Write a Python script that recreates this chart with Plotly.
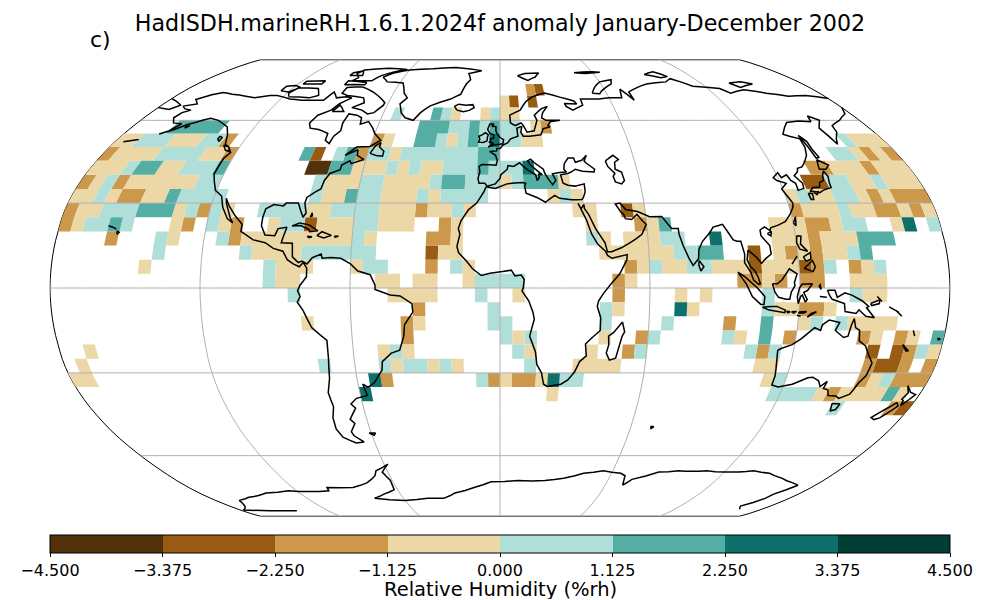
import plotly.graph_objects as go

TITLE = "HadISDH.marineRH.1.6.1.2024f anomaly January-December 2002"
PANEL = "c)"
CBAR_TITLE = "Relative Humidity (%rh)"
TICK_VALUES = [-4.5, -3.375, -2.25, -1.125, 0.0, 1.125, 2.25, 3.375, 4.5]
TICK_LABELS = ["\u22124.500", "\u22123.375", "\u22122.250", "\u22121.125", "0.000", "1.125", "2.250", "3.375", "4.500"]
BIN_COLORS = {-4: "#53310a", -3: "#985b12", -2: "#cc994c", -1: "#ecd7a6",
              1: "#afdfd8", 2: "#54aea4", 3: "#0e706a", 4: "#003d35"}
BIN_MIDPOINTS = {-4: -3.94, -3: -2.81, -2: -1.69, -1: -0.56, 1: 0.56, 2: 1.69, 3: 2.81, 4: 3.94}

# south edge of each 5-degree band -> (west lon, east lon, anomaly bin)
ANOMALY_RUNS = {
 70: [(15,20,-2),(20,25,-3)],
 65: [(0,5,-1),(5,10,-3),(15,20,-3)],
 60: [(-55,-50,1),(-35,-30,2),(-30,-25,1),(-25,-20,-1),(-10,-5,-1),(-5,0,1),(0,10,-1)],
 55: [(-160,-135,2),(-40,-25,2),(-25,-15,1),(-15,-10,2),(-10,-5,1),(-5,0,2),(0,10,1),(15,20,-1),(20,25,-2)],
 50: [(-180,-170,-1),(-170,-155,1),(-155,-140,-1),(-140,-130,1),(-130,-125,-2),(-60,-55,-2),(-55,-50,-1),(-40,-30,2),(-30,-25,1),(-25,-20,-1),(-20,-15,1),(-15,-10,2),(-10,-5,1),(-5,0,3),(0,10,1),(10,20,-1),(160,165,1),(165,180,-1)],
 45: [(-180,-175,-2),(-175,-155,-1),(-155,-135,1),(-135,-125,-1),(-125,-120,-2),(-90,-85,2),(-85,-80,-3),(-75,-70,1),(-70,-65,2),(-65,-60,-2),(-60,-50,1),(-50,-45,-1),(-45,-10,1),(-10,0,2),(150,160,1),(160,165,-1),(165,170,-2),(170,175,-1),(175,180,-2)],
 40: [(-180,-165,-1),(-165,-160,1),(-160,-150,2),(-150,-140,-1),(-140,-125,1),(-125,-120,2),(-85,-75,-4),(-75,-65,2),(-65,-50,-1),(-50,-45,1),(-45,-40,-1),(-40,-35,1),(-35,-25,-1),(-25,-10,1),(-10,-5,2),(-5,10,1),(10,15,3),(135,145,-2),(145,160,-1),(160,165,-2),(165,180,-1)],
 35: [(-180,-175,-2),(-175,-170,-1),(-170,-165,1),(-165,-160,-2),(-160,-130,-1),(-130,-120,1),(-80,-75,1),(-75,-60,-1),(-60,-50,1),(-50,-30,-1),(-30,-25,1),(-25,-15,2),(-15,0,1),(0,5,-1),(5,10,1),(10,25,2),(25,30,-1),(130,140,-3),(140,150,1),(150,160,-1),(160,165,1),(165,180,-1)],
 30: [(-180,-170,-1),(-170,-165,1),(-165,-160,-1),(-160,-150,-2),(-150,-140,-1),(-140,-135,2),(-135,-115,1),(-80,-75,1),(-75,-65,-1),(-65,-60,2),(-60,-50,1),(-50,-35,-1),(-35,-30,1),(-30,-25,-1),(-25,-5,1),(20,25,-1),(25,30,1),(30,35,-1),(120,125,-1),(125,130,1),(130,140,-1),(140,150,1),(150,155,-1),(155,160,-2),(160,165,-1),(165,180,-2)],
 25: [(-180,-175,-2),(-175,-165,-1),(-165,-150,1),(-150,-135,2),(-135,-130,-1),(-130,-125,1),(-125,-120,-2),(-120,-115,1),(-115,-110,-1),(-100,-80,1),(-80,-70,-1),(-70,-50,1),(-50,-35,-1),(-35,-30,-2),(-30,-20,-1),(-20,-15,1),(-15,-10,-1),(30,40,-1),(50,55,-3),(55,60,-1),(120,125,-2),(125,140,-1),(140,145,1),(145,155,-1),(155,165,-2),(165,170,-1),(170,175,-2),(175,180,-1)],
 20: [(-180,-175,-2),(-175,-170,-1),(-170,-160,1),(-160,-155,2),(-155,-150,1),(-135,-130,-1),(-130,-125,-2),(-120,-115,1),(-115,-110,-1),(-110,-105,-2),(-95,-90,-1),(-90,-80,1),(-80,-75,-3),(-75,-60,-1),(-60,-50,1),(-50,-35,-1),(-25,-20,-2),(-20,-15,-1),(35,40,-1),(55,60,-2),(60,65,-1),(65,70,2),(110,125,-1),(125,135,-2),(135,140,-1),(140,150,1),(160,165,-1),(165,170,3),(175,180,1)],
 15: [(-160,-155,-2),(-140,-135,1),(-135,-130,-1),(-115,-110,1),(-110,-105,-2),(-105,-60,-1),(-60,-55,1),(-55,-50,-1),(-30,-20,-2),(-20,-15,-1),(35,40,1),(40,45,-1),(50,65,-1),(65,75,1),(85,90,3),(110,125,-1),(125,130,-2),(130,145,-1),(145,160,2)],
 10: [(-140,-135,1),(-105,-100,1),(-100,-80,-1),(-80,-50,1),(-30,-25,-3),(-25,-15,-1),(40,70,-1),(70,80,1),(80,90,2),(100,105,-3),(110,115,-1),(115,120,-2),(120,125,-1),(125,130,-2),(130,140,-1),(140,145,1),(145,150,2)],
 5: [(-145,-140,-1),(-95,-90,1),(-90,-75,-1),(-60,-55,-1),(-55,-45,1),(-30,-25,-2),(-20,-15,1),(-15,-10,-1),(50,55,-2),(55,60,-1),(60,65,1),(65,75,-1),(75,85,1),(85,100,-1),(100,105,-3),(105,120,-1),(120,125,-3),(125,130,-2),(130,135,1),(140,145,-2),(145,150,-1),(150,155,1)],
 0: [(-95,-90,1),(-90,-80,-1),(-50,-40,-1),(-35,-25,-1),(-15,-10,-1),(-10,10,1),(45,50,-2),(50,55,-1),(95,105,-2),(105,110,-1),(110,115,-2),(120,130,-2),(140,155,-1)],
 -5: [(-85,-80,1),(-45,-25,-1),(-10,-5,1),(5,10,-1),(45,50,-2),(70,75,-1),(80,85,-1),(105,110,1),(140,145,1),(145,155,-1)],
 -10: [(-35,-30,-2),(-5,0,1),(40,45,1),(45,50,-1),(70,75,3),(75,80,-1),(105,110,1),(110,120,-1),(120,130,-2),(130,135,-1)],
 -15: [(-80,-75,-1),(-40,-35,-2),(-35,-30,-1),(-5,5,1),(40,45,1),(65,70,1),(90,95,-2),(105,110,2),(120,125,-1),(125,130,1),(135,140,1),(140,160,-1)],
 -20: [(-40,-35,-2),(0,5,1),(5,10,-1),(10,15,1),(40,45,-1),(55,60,-2),(60,65,1),(90,95,1),(95,100,-1),(105,110,2),(115,120,-2),(145,150,-2),(150,155,-1),(160,165,-2),(165,170,-1),(175,180,2)],
 -25: [(-170,-165,-1),(-50,-45,-1),(-45,-40,1),(-40,-35,-1),(5,10,1),(10,15,-1),(35,40,-1),(50,55,-2),(55,60,1),(100,105,1),(105,110,-2),(110,115,1),(150,155,-3),(160,165,-3),(165,170,-2),(170,175,1),(175,180,-1)],
 -30: [(-175,-170,-1),(-75,-70,1),(-50,-45,1),(-45,-40,-1),(-40,-30,1),(-30,-25,-1),(-25,-20,1),(-20,-15,-1),(10,15,1),(30,50,-1),(105,115,-1),(150,155,-2),(155,165,-3),(165,170,-2),(175,180,-2)],
 -35: [(-180,-170,-1),(-55,-50,3),(-50,-45,-2),(-10,-5,1),(-5,0,-2),(0,5,-1),(5,15,-2),(15,20,-1),(20,25,3),(25,35,1),(110,115,-1),(115,120,1),(150,155,-2),(155,160,-1),(160,165,1),(165,180,-2)],
 -40: [(-60,-55,3),(20,25,-1),(115,135,1),(135,140,-1),(140,145,-2),(145,165,-1),(165,170,2),(170,175,-1)],
 -45: [(145,150,1),(170,175,-2),(175,180,-3)],
}

AMERICAS = [(-168,65.6),(-162,66.5),(-166,68.3),(-161,70.3),(-156.5,71.3),(-150,70.5),(-141,69.7),(-135,69),(-128,70),(-124,70),(-115,68.5),(-108,68),(-100,68),(-96,68),(-94,71.5),(-90,69),(-85,69.5),(-81.5,69),(-86,66.5),(-88,64),(-93,62),(-94.5,59),(-92.5,57),(-88,56.5),(-82.5,55),(-82,52.5),(-79.5,51.3),(-79,54),(-77,56),(-78,59),(-77.5,62.5),(-73,62),(-70,61),(-69,58.5),(-65.5,59.5),(-62,57),(-60,55),(-56,52.5),(-60,50.2),(-66,50),(-70,47),(-65,49),(-64.5,47),(-61,45.5),(-66,44),(-67,45),(-70,43.5),(-70,41.8),(-74,40.5),(-75.5,38),(-76,35),(-78,34),(-81,32),(-81.3,30),(-80,26.5),(-81,25),(-82.5,27.5),(-84,30),(-89,30),(-90,29),(-94,29.5),(-97,28),(-97.5,25),(-97.5,22),(-95.5,18.7),(-91.5,18.5),(-90.5,21),(-87,21.5),(-88,18),(-88.5,16),(-84,15.8),(-83.5,11),(-81,9),(-79.5,9.5),(-77.5,8.5),(-75.5,10.7),(-72,12),(-71.5,10.5),(-68,10.8),(-64,10.5),(-60,8.5),(-57,6),(-52,4.7),(-50,1),(-50,-0.5),(-44,-2.5),(-40,-2.8),(-35.3,-5.5),(-35,-8.5),(-38.5,-13),(-39,-17),(-41,-22),(-44.5,-23),(-48.5,-26),(-49,-29),(-53,-33.5),(-56,-35),(-58,-34),(-57,-38),(-62,-39),(-65,-41),(-63.5,-42.5),(-66,-45),(-67.5,-46.5),(-66,-48),(-69,-51),(-68.5,-52.5),(-65,-54.8),(-69,-55.2),(-74,-53),(-75.5,-50),(-75,-46),(-73,-42),(-73.5,-37),(-71.5,-32),(-70.5,-25),(-70.3,-18.5),(-76,-14),(-79,-8),(-81.2,-5),(-80,-3),(-81,-1),(-80,1),(-78.7,2.5),(-77.5,4),(-77.5,7),(-79,9),(-80.5,7.5),(-83,8.5),(-85.5,10),(-87.5,13),(-91.5,14),(-95,16),(-100,17),(-105.5,20),(-105.5,22.5),(-109,25.5),(-112.5,29),(-114.7,31.7),(-114,30),(-111,25),(-109.5,23),(-112,24.5),(-115,28.5),(-117,32.5),(-120.5,34.5),(-122.5,37.5),(-124.3,40.3),(-124,46),(-122.5,48),(-125,50),(-127.5,51),(-130,54.5),(-133.5,57.5),(-137,58.7),(-141,60),(-146,60.8),(-149,60),(-152,59),(-154,58.5),(-158,56.5),(-163,54.8),(-160,56),(-157.5,58.7),(-162,59),(-165,61),(-164,63),(-161,64),(-165,64.5),(-168,65.6)]
AFRO_EURASIA_EAST = [(-5.9,35.8),(-6.8,34),(-9.7,30),(-13,27.7),(-16,23.7),(-17,21),(-16.3,19),(-17.4,14.7),(-16.7,12.5),(-13.5,9.5),(-11,6.8),(-7.5,4.4),(-4,5.2),(1,5.8),(4.5,6.3),(6,4.3),(8.5,4.6),(9.7,3),(9.3,0),(8.8,-1),(11.5,-4.5),(13.2,-8.5),(13.8,-11),(12,-17),(14.5,-22.5),(15.2,-27),(17.3,-30),(18.4,-34),(20,-34.8),(25.7,-34),(28.5,-32.5),(31,-29.7),(32.8,-26),(35.4,-24),(34.8,-19.8),(36.8,-18),(40.5,-15),(40.5,-10.5),(39,-6.5),(39.5,-4.5),(41.5,-1.8),(44.5,1.5),(48,5),(51,10),(51.2,11.8),(45,10.5),(43.3,11.5),(42.5,13),(39.5,15.5),(37.3,19),(35.5,24),(34,27),(32.5,29.9),(33.6,28),(34.9,29.5),(35,28),(36.5,26),(39,21),(42.5,16),(43.3,12.8),(45,12.8),(49,14.2),(52,15.7),(55,17.3),(57.7,19),(59.8,22.5),(58.5,23.7),(56.4,26),(54,24.2),(51.5,24.5),(51,26),(50,26.7),(48,29.7),(50,30),(52,27.7),(56.8,27),(61.5,25.2),(66.5,25.3),(67.5,24),(70,21),(72.7,21),(72.8,19),(74,15),(76,10.5),(77.5,8),(79.8,10.3),(80.2,13.5),(82,16.5),(85.5,19.7),(87,21.5),(89,22),(91,22.5),(92.3,20.5),(94.5,17),(96,16.5),(97.5,16.5),(98.5,12),(98.2,9),(100.5,5.5),(101.5,2.8),(103.5,1.3),(104.2,1.5),(103.3,4),(102,6.3),(100.5,7.5),(99.3,10),(100,13.4),(100.9,12.7),(103,11),(105,8.7),(106.7,10.3),(109.2,12),(109,15),(106,18.5),(106,20.5),(108,21.6),(110,20.3),(110.5,21.3),(114,22.3),(117,23.5),(119.5,26),(121.5,28.5),(122,30),(121,32),(119.5,35),(122.5,37),(119,38),(118,39),(121,40.8),(121.5,39),(124.3,40),(125,38),(126.5,37),(126.3,34.5),(129,35.2),(129.5,37),(127.5,39.7),(129.7,41),(130.7,42.3),(133,42.8),(135.5,44.5),(138.5,47),(140.5,50),(141.3,53),(137.5,54),(135.2,54.7),(139,57.3),(142.5,59.2),(149,59.7),(155,59.5),(156.5,61.7),(160,60),(155.5,57),(156.7,51),(158.5,53),(162,55.5),(163.3,58),(170,60),(177,62.5),(180,65)]
CHUKOTKA_WEST = [(-180,65),(-173,64.3),(-170,66),(-175,67.5),(-180,68.7)]
EURASIA_NORTH = [(180,68.7),(170,70),(160,69.7),(150,71),(140,72.5),(130,71),(127,73),(113,74),(105,77.5),(100,76),(87,75),(80,73.5),(73,71.5),(73,68),(69,72.7),(67,69),(60,69),(54,68.5),(44,68.5),(44,66),(40,64.7),(38,64),(35,65.5),(34.5,66.7),(41,66.5),(40,67.7),(33,69.3),(25,71),(18,69.5),(14,67.5),(10.5,64),(5,62),(5.2,59),(7.5,58),(10.5,59),(11.5,58),(13,55.5),(16.5,56),(18.5,60),(17.5,62),(21.5,64.5),(25,65.5),(22,63),(21,61),(23,60),(30,60),(25,59.5),(23.5,58),(24.5,57.5),(21,56.8),(19.5,54.5),(14,54),(11,54),(10,55.5),(10.7,57.7),(8.2,57),(8.5,54),(5,53),(3.5,51.5),(1.5,50.8),(0,49.5),(-1.5,49.5),(-1.5,48.6),(-4.7,48.4),(-2,47),(-1.2,45),(-1.7,43.4),(-8,43.7),(-9.2,43),(-8.8,41),(-9.5,38.7),(-9,37),(-6.5,37),(-5.5,36),(-2,36.8),(0,38.7),(0.3,40),(3.2,42),(3.5,43.3),(6,43),(8.7,44.3),(10.3,43),(12.3,41.7),(15.5,40),(16,38),(17,39),(16.8,40.2),(18.4,40),(16,41.7),(13.5,43.5),(12.3,45),(13.7,45.6),(15,44.5),(19,42),(19.5,40.5),(21,38.3),(22.5,36.5),(24,38),(22.8,40.4),(26,40.8),(29,41),(28,42),(28.5,44),(30.5,46),(33,46),(33.5,44.5),(36.5,45.2),(39,47),(37.5,45),(38,44.4),(41.5,42),(41,41),(36,41.3),(33,42),(31,41),(29.5,40.5),(26.3,40),(27,37),(29,36.3),(32,36),(36,36.8),(36,34),(35,32),(34.3,31.3),(32.3,31.2),(30,31.2),(25,31.7),(23,32.7),(20,31),(19,30.3),(15.5,32),(11,33.5),(10.5,36),(11,37),(9.5,37.3),(3,36.8),(-2,35.2),(-5.9,35.8)]
CASPIAN = [(47,45),(51,47),(53,45.5),(51,44.5),(50.5,42),(53,41),(53.5,38),(52,36.8),(49.5,37.5),(49,39.5),(50,40.5),(47.5,43),(47,45)]
GREENLAND = [(-73,78.2),(-68,76),(-58,75.5),(-54,71),(-51,69),(-53.5,66.5),(-51,63),(-48,61),(-43.5,60),(-41,63),(-37,65.7),(-27,68.5),(-22,70.5),(-20,75),(-18,77),(-20,80),(-12,81.5),(-30,83.5),(-45,82.7),(-60,82),(-68,80.5),(-73,78.2)]
AUSTRALIA = [(113.5,-22),(114,-26),(115,-31),(115,-34.3),(118,-35),(123.5,-34),(129,-31.7),(131,-31.5),(134,-32.8),(135.7,-34.8),(137.8,-33),(137.5,-35.5),(139.7,-36),(141,-38),(144.5,-38.2),(146.3,-39),(150,-37.5),(151.3,-33.5),(153,-31),(153.5,-26.5),(151,-23.5),(149,-20.5),(146,-18.7),(145.3,-15),(143.5,-14),(142.5,-10.8),(141.7,-13),(141,-17),(139.3,-17.5),(135.5,-15),(136.8,-12.2),(132.5,-11.3),(130,-13),(129.5,-15),(127,-14),(124,-16.5),(122.2,-18),(119,-20),(115,-21.3),(113.5,-22)]
ANTARCTICA = [(-142,-85),(-178,-84.5),(-165,-79),(-155,-77.5),(-140,-75.5),(-125,-74.5),(-101,-74.5),(-100,-73),(-85,-73),(-75,-71),(-68,-68),(-66,-66),(-58,-63.3),(-60,-64.5),(-63,-66.5),(-61,-70),(-62,-74),(-70,-76),(-78,-78),(-60,-79),(-45,-78),(-35,-78),(-27,-75.5),(-15,-73),(-5,-70.5),(10,-70),(25,-70),(35,-69),(45,-67),(55,-66),(65,-67),(68,-68),(70,-72),(73,-69.5),(85,-66.5),(95,-66),(110,-66),(120,-66.5),(135,-66),(145,-67),(155,-69),(165,-71),(170,-72),(165,-76),(165,-78),(160,-82),(165,-84)]
ISLANDS = [
 [(-5.5,50),(-3,50.7),(1.3,51.2),(1.7,52.7),(0,53.5),(-1.5,55),(-2,56),(-2,57.6),(-4,57.7),(-3,58.6),(-5,58.6),(-6,56.5),(-4.8,55),(-3,54.5),(-3,53.3),(-4.5,53),(-4.3,52),(-5.2,51.8),(-3,51.3),(-5.5,50)],
 [(-6,52.2),(-6,53.5),(-5.6,54.5),(-7,55.3),(-8.5,54.5),(-10,54),(-9.5,52.8),(-10,51.8),(-8,51.7),(-6,52.2)],
 [(-22.5,64),(-24,65.5),(-22,66.4),(-18,66),(-14.5,66.2),(-13.6,65),(-16,63.9),(-19,63.4),(-22.5,64)],
 [(11,79),(16,80),(25,80.3),(22,78.3),(17,76.7),(14,77.7),(11,79)],
 [(52,71),(55,73.5),(60,76),(68,77),(66,75),(58,72),(56,70.7),(52,71)],
 [(92,79.5),(100,81),(105,78.5),(100,78),(92,79.5)],
 [(48,80.5),(60,81),(65,80.7),(55,80),(48,80.5)],
 [(137,75.5),(145,76),(150,75),(140,73.5),(137,75.5)],
 [(-80,73.7),(-72,71.5),(-68,70),(-62,67),(-62,66),(-65,63),(-68,62.5),(-72,64),(-78,65),(-73,67),(-75,69),(-85,70),(-89,71),(-89,73.5),(-80,73.7)],
 [(-117,69.5),(-105,69),(-101,70),(-105,73),(-117,73.2),(-119,71),(-117,69.5)],
 [(-125,72),(-120,71.5),(-116,73.5),(-120,74.3),(-125,74),(-125,72)],
 [(-90,76.5),(-78,76.5),(-75,79),(-62,82.3),(-75,83),(-90,82),(-92,80),(-88,78),(-90,76.5)],
 [(-92,74.7),(-80,74.7),(-80,75.7),(-92,76.5),(-92,74.7)],
 [(-117,75),(-106,75),(-106,76.5),(-117,76.3),(-117,75)],
 [(-87,63.5),(-81,63.5),(-85,66),(-87,63.5)],
 [(-95,79),(-87,79),(-90,81.5),(-95,80.5),(-95,79)],
 [(-59,47.7),(-56,46.9),(-53,46.7),(-53,48.5),(-55.5,50),(-55.5,51.6),(-57.5,50.5),(-59,47.7)],
 [(-128,50.7),(-125,50),(-123.5,48.4),(-125.5,48.8),(-128,50.7)],
 [(-133,54),(-131.5,53.5),(-131.5,52),(-133,53),(-133,54)],
 [(-85,21.9),(-82,23),(-78,22.3),(-74.2,20.2),(-77.5,19.9),(-78,20.7),(-81.5,22.1),(-85,21.9)],
 [(-74.4,18.5),(-72.5,19.9),(-68.5,18.6),(-71.5,17.7),(-74.4,18.5)],
 [(-78.3,18.3),(-76.3,18.1),(-77.5,17.8),(-78.3,18.3)],
 [(-67.2,18.4),(-65.6,18.3),(-67,18),(-67.2,18.4)],
 [(-78,25),(-77.5,26.6),(-77.2,25.5),(-78,25)],
 [(-156,20.2),(-155,19.7),(-155.7,19),(-156,20.2)],
 [(-160,22),(-157.8,21.4),(-156.5,20.8)],
 [(-170,52.8),(-176,51.9)],
 [(-154,57.5),(-152.5,58),(-153.5,57),(-154,57.5)],
 [(-61,-51.5),(-58,-51.5),(-59,-52.3),(-61,-51.5)],
 [(49.3,-12),(50.4,-15.5),(49.5,-17),(47.5,-24.8),(45,-25.5),(43.5,-23),(44.3,-20),(44,-17),(46,-15.7),(49.3,-12)],
 [(69,-49),(70.5,-49.2),(69.5,-49.8),(69,-49)],
 [(80,9.7),(81.8,7.5),(80.5,6),(79.8,8),(80,9.7)],
 [(95.3,5.6),(98,4),(103,0),(106,-3),(105.8,-5.8),(104.5,-5.8),(101,-3),(98.5,1.5),(95.3,5.6)],
 [(105.2,-6.8),(108.5,-6.5),(111,-6.5),(114.5,-7.8),(114.3,-8.7),(108,-7.8),(105.2,-6.8)],
 [(109,1.5),(111,1.5),(113,3),(116,6.8),(119,5),(117.8,2),(118,0.8),(116.5,-1.5),(116,-4),(114.5,-4),(111.5,-3.3),(110,-1.5),(109,1.5)],
 [(119.5,-5.5),(120.3,-3),(121,-2.5),(122.3,-5),(123,-4),(121.5,-1.5),(123,-0.9),(125,1.5),(120.8,1.3),(119.8,0),(119,-3),(119.5,-5.5)],
 [(131,-0.8),(134,-0.8),(135,-3.3),(138,-1.7),(141,-2.6),(145,-4.5),(147.8,-6.5),(147,-7),(150.5,-10.5),(147,-10),(144,-7.7),(143,-9),(138.5,-8.3),(138,-5.5),(133,-4),(132,-2.8),(131,-0.8)],
 [(120.5,18.5),(122.2,18.3),(121.5,15.5),(124,13),(121,13.7),(120,16),(120.5,18.5)],
 [(122,7),(124,8.5),(125.5,9.7),(126.5,7.5),(125.5,5.8),(124,6.3),(122,7)],
 [(122,11),(125,12.5),(125,10.2),(123,9.5),(122,11)],
 [(117.2,8.4),(119.5,11.3)],
 [(120.2,23),(121.5,25.2),(121,22),(120.2,23)],
 [(108.7,19.2),(110.5,20),(110,18.4),(108.7,19.2)],
 [(131,34),(133,35.5),(136,35.7),(137,37.3),(139,38),(140,40),(141.4,41.4),(142,39.5),(141,37),(140.8,35.5),(137,34.6),(135,33.7),(132.5,34.2),(131,34)],
 [(130,33.5),(131.7,33.3),(131.3,31.3),(130.2,31.3),(130,33.5)],
 [(132.5,33.8),(134.5,34),(133.5,33),(132.5,33.8)],
 [(140,42),(141.7,45.4),(145.3,43.5),(143,42),(140,42)],
 [(142,54.3),(143.5,52),(143,49),(143.5,46.2),(142,46),(142,50),(142,54.3)],
 [(123.5,-10.3),(127,-8.4),(125,-9),(123.5,-10.3)],
 [(120,-8.5),(123,-8.3),(122,-8.8),(120,-8.8),(120,-8.5)],
 [(117,-8.4),(119,-8.3),(118,-8.9),(117,-8.4)],
 [(115,-8.2),(116.5,-8.4),(115.5,-8.8),(115,-8.2)],
 [(119.3,-9.6),(120.8,-10)],
 [(127.5,0.8),(128.5,-0.5),(128,1.5)],
 [(128,-3),(130.8,-3.3)],
 [(148.5,-5.5),(152,-4.2),(152,-5.5),(149,-6.2),(148.5,-5.5)],
 [(151,-3),(153,-4.8)],
 [(156,-6.7),(160,-8.5)],
 [(159,-8),(161.5,-10)],
 [(167,-15),(168,-17)],
 [(164,-20),(167,-22.3),(166,-22.3),(164,-20)],
 [(177.5,-17.7),(178.7,-18),(178,-18.3),(177.5,-17.7)],
 [(144.7,-40.8),(148.3,-41),(148,-43),(146,-43.5),(145.3,-42),(144.7,-40.8)],
 [(172.7,-34.5),(175.5,-36.8),(178.4,-37.7),(177,-39.5),(175.3,-41.6),(174.8,-39.8),(173.8,-39.3),(174.7,-37),(172.7,-34.5)],
 [(172.7,-40.5),(174.3,-41.7),(172.8,-43.6),(170.5,-46),(168.5,-46.6),(166.5,-45.9),(168.5,-44),(172.7,-40.5)],
]
COAST_LINES = [AMERICAS, AFRO_EURASIA_EAST, CHUKOTKA_WEST, EURASIA_NORTH, CASPIAN, GREENLAND, AUSTRALIA, ANTARCTICA] + ISLANDS

GRID_MERIDIANS = [-120, -60, 0, 60, 120]
GRID_PARALLELS = [-60, -30, 0, 30, 60]

fig = go.Figure()

# filled 5-degree anomaly cells, one trace per colour bin
for level, color in BIN_COLORS.items():
    lons, lats = [], []
    for south, runs in ANOMALY_RUNS.items():
        for west, east, bin_level in runs:
            if bin_level != level:
                continue
            top = list(range(west, east + 1, 5))
            ring = [(west, south)] + [(x, south + 5) for x in top] + [(x, south) for x in reversed(top)]
            lons += [p[0] for p in ring] + [None]
            lats += [p[1] for p in ring] + [None]
    if lons:
        fig.add_trace(go.Scattergeo(lon=lons, lat=lats, mode="lines", fill="toself",
                                    fillcolor=color, line=dict(width=0, color=color),
                                    hoverinfo="skip", showlegend=False))

# graticule above the cells
for lon0 in GRID_MERIDIANS:
    lat_steps = list(range(-90, 91, 5))
    fig.add_trace(go.Scattergeo(lon=[lon0] * len(lat_steps), lat=lat_steps, mode="lines",
                                line=dict(width=1, color="#b0b0b0"), hoverinfo="skip", showlegend=False))
for lat0 in GRID_PARALLELS:
    lon_steps = list(range(-180, 181, 5))
    fig.add_trace(go.Scattergeo(lon=lon_steps, lat=[lat0] * len(lon_steps), mode="lines",
                                line=dict(width=1, color="#b0b0b0"), hoverinfo="skip", showlegend=False))

# coastlines
coast_lon, coast_lat = [], []
for line in COAST_LINES:
    coast_lon += [p[0] for p in line] + [None]
    coast_lat += [p[1] for p in line] + [None]
fig.add_trace(go.Scattergeo(lon=coast_lon, lat=coast_lat, mode="lines",
                            line=dict(width=1.5, color="black"), hoverinfo="skip", showlegend=False))

# colour bar, carried by invisible markers at the cell centres
center_lon, center_lat, center_val = [], [], []
for south, runs in ANOMALY_RUNS.items():
    for west, east, bin_level in runs:
        for x in range(west, east, 5):
            center_lon.append(x + 2.5)
            center_lat.append(south + 2.5)
            center_val.append(BIN_MIDPOINTS[bin_level])
levels = sorted(BIN_COLORS)
scale = []
for i, lev in enumerate(levels):
    scale += [[i / len(levels), BIN_COLORS[lev]], [(i + 1) / len(levels), BIN_COLORS[lev]]]
fig.add_trace(go.Scattergeo(
    lon=center_lon, lat=center_lat, mode="markers", hoverinfo="skip", showlegend=False,
    marker=dict(size=1, opacity=0, color=center_val, cmin=-4.5, cmax=4.5, colorscale=scale,
                colorbar=dict(orientation="h", x=0.5, xanchor="center", y=1 - 535 / 600, yanchor="top",
                              lenmode="pixels", len=900, thicknessmode="pixels", thickness=18,
                              xpad=0, ypad=0, outlinecolor="black", outlinewidth=1,
                              tickmode="array", tickvals=TICK_VALUES, ticktext=TICK_LABELS,
                              ticks="outside", ticklen=4, tickwidth=1, tickcolor="black",
                              tickfont=dict(family="DejaVu Sans", size=16, color="black")))))

fig.update_layout(
    width=1000, height=600, margin=dict(l=0, r=0, t=0, b=0), paper_bgcolor="white",
    font=dict(family="DejaVu Sans", color="black"),
    title=dict(text=TITLE, x=0.5, xanchor="center", y=1 - 23 / 600, yanchor="middle",
               font=dict(family="DejaVu Sans", size=22.2, color="black")),
    annotations=[dict(text=PANEL, xref="paper", yref="paper", x=88 / 1000, y=1 - 40 / 600,
                      xanchor="left", yanchor="middle", showarrow=False,
                      font=dict(family="DejaVu Sans", size=22, color="black")),
                 dict(text=CBAR_TITLE, xref="paper", yref="paper", x=0.5, y=1 - 589 / 600,
                      xanchor="center", yanchor="middle", showarrow=False, height=20, borderpad=0,
                      font=dict(family="DejaVu Sans", size=19.5, color="black"))],
    geo=dict(projection_type="robinson", domain=dict(x=[0.05, 0.95], y=[1 - 520 / 600, 1 - 56 / 600]),
             showframe=True, framecolor="black", framewidth=1, showland=False, showocean=False,
             showlakes=False, showcountries=False, showcoastlines=False, showrivers=False,
             showsubunits=False, bgcolor="white",
             lonaxis=dict(showgrid=False, range=[-180, 180]),
             lataxis=dict(showgrid=False, range=[-90, 90])),
)
fig.write_html("out.html", config=dict(displayModeBar=False),
               post_script="document.body.style.margin='0';")
